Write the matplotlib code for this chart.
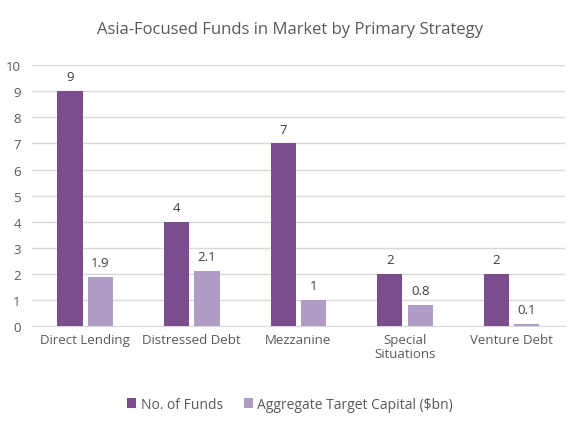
import matplotlib
matplotlib.use("Agg")
import matplotlib.pyplot as plt
import numpy as np

categories = ["Direct Lending", "Distressed Debt", "Mezzanine", "Special\nSituations", "Venture Debt"]
num_funds = [9, 4, 7, 2, 2]
agg_capital = [1.9, 2.1, 1, 0.8, 0.1]
series_names = ["No. of Funds", "Aggregate Target Capital ($bn)"]
yticks = list(range(0, 11))

plt.rcParams['font.family'] = ['Open Sans', 'DejaVu Sans']
txt = '#595959'

fig = plt.figure(figsize=(5.8, 4.35), dpi=100)
ax = fig.add_axes([0.055, 0.248, 0.919, 0.6])

x = np.arange(len(categories))
w = 0.235
gap = 0.025
dark = '#7A4E8C'
light = '#B09CC4'
b1 = ax.bar(x - w/2 - gap, num_funds, w, color=dark, label=series_names[0], zorder=3)
b2 = ax.bar(x + w/2 + gap, agg_capital, w, color=light, label=series_names[1], zorder=3)

for rect, v in zip(b1, num_funds):
    ax.text(rect.get_x() + rect.get_width()/2, v + 0.3, f"{v:g}", ha='center', va='bottom', fontsize=9.5, color='#404040')
for rect, v in zip(b2, agg_capital):
    ax.text(rect.get_x() + rect.get_width()/2, v + 0.3, f"{v:g}", ha='center', va='bottom', fontsize=9.5, color='#404040')

ax.set_xlim(-0.5, len(categories) - 0.5)
ax.set_ylim(0, 10)
ax.set_yticks(yticks)
ax.yaxis.grid(True, color='#D9D9D9', linewidth=1, zorder=0)
ax.set_axisbelow(True)
for s in ['top', 'right', 'left']:
    ax.spines[s].set_visible(False)
ax.spines['bottom'].set_color('#D9D9D9')
ax.tick_params(axis='both', length=0, colors=txt, labelsize=9.5)
ax.tick_params(axis='y', pad=8)
ax.tick_params(axis='x', pad=5)
ax.set_xticks(x)
ax.set_xticklabels(categories, linespacing=1.1)

fig.text(0.5, 0.93, "Asia-Focused Funds in Market by Primary Strategy", fontsize=12, color=txt,
         ha='center', va='center')

fig.legend(handles=[b1, b2], labels=series_names, loc='center', bbox_to_anchor=(0.5, 0.068),
           ncol=2, frameon=False, fontsize=10, labelcolor=txt, handlelength=0.7, handleheight=0.7,
           handletextpad=0.3, columnspacing=1.5)

fig.savefig("out.png", dpi=100)
